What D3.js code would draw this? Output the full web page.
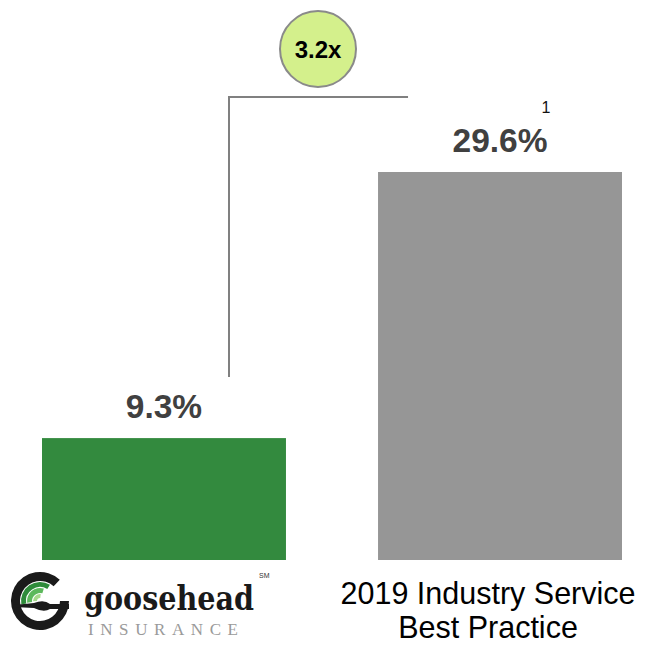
<!DOCTYPE html>
<html><head><meta charset="utf-8">
<script src="https://cdn.jsdelivr.net/npm/d3@7"></script>
<style>html,body{margin:0;padding:0;background:#fff;}svg{display:block;}</style>
</head><body>
<svg id="c" width="647" height="645"></svg>
<script>
const categories = ["Goosehead", "2019 Industry Service Best Practice"];
const values = [9.3, 29.6];
const valueLabels = ["9.3%", "29.6%"];
const multipleLabel = "3.2x";
const colors = ["#338a3e", "#969696"];

const svg = d3.select("#c");
const x = d3.scaleBand().domain(categories).range([42, 622]).paddingInner(0.274).paddingOuter(0);
const y = d3.scaleLinear().domain([0, 29.6]).range([560, 172]);
const sans = "Liberation Sans, Arial, sans-serif";

svg.selectAll("rect.bar").data(categories).enter().append("rect")
  .attr("class","bar")
  .attr("x", d => x(d)).attr("width", x.bandwidth())
  .attr("y", (d,i) => y(values[i])).attr("height", (d,i) => y(0) - y(values[i]))
  .attr("fill", (d,i) => colors[i]);

svg.selectAll("text.val").data(categories).enter().append("text")
  .attr("class","val")
  .attr("x", d => x(d) + x.bandwidth()/2)
  .attr("y", (d,i) => y(values[i]) - 20)
  .attr("text-anchor","middle")
  .attr("font-family", sans)
  .attr("font-weight","bold").attr("font-size", 33.5)
  .attr("fill","#404040")
  .text((d,i) => valueLabels[i]);

// footnote marker
svg.append("text").attr("x", x(categories[1]) + x.bandwidth()/2 + 46).attr("y", y(values[1]) - 59)
  .attr("text-anchor","middle").attr("font-family", sans)
  .attr("font-size", 16).attr("fill","#111").text("1");

// bracket
const bx = x(categories[0]) + 187;
const topY = 97;
svg.append("path")
  .attr("d", `M${bx},${y(values[0]) - 61} L${bx},${topY} L${x(categories[1]) + 30},${topY}`)
  .attr("fill","none").attr("stroke","#808080").attr("stroke-width",2);

// multiple circle
svg.append("circle").attr("cx", 318).attr("cy", 49).attr("r", 38)
  .attr("fill","#d4f08c").attr("stroke","#8a8a8a").attr("stroke-width",2);
svg.append("text").attr("x", 318).attr("y", 58).attr("text-anchor","middle")
  .attr("font-family", sans).attr("font-weight","bold")
  .attr("font-size", 24).attr("fill","#000").text(multipleLabel);

// category label for industry
const cx2 = x(categories[1]) + x.bandwidth()/2 - 12;
svg.append("text").attr("x", cx2).attr("y", 603.5).attr("text-anchor","middle")
  .attr("font-family", sans).attr("font-size", 30.5).attr("fill","#000")
  .text("2019 Industry Service");
svg.append("text").attr("x", cx2).attr("y", 638).attr("text-anchor","middle")
  .attr("font-family", sans).attr("font-size", 30.5).attr("fill","#000")
  .text("Best Practice");

// logo for Goosehead
const lg = svg.append("g").attr("transform","translate(40,601)");
const arc = d3.arc();
lg.append("path").attr("d", arc({innerRadius:20, outerRadius:29, startAngle: Math.PI/2, endAngle: 2*Math.PI + 0.75}))
  .attr("fill","#1a1a1a");
lg.append("path").attr("d", arc({innerRadius:14, outerRadius:19, startAngle: -1.75, endAngle: 0.55}))
  .attr("fill","#2e8b3a");
lg.append("path").attr("d", arc({innerRadius:8, outerRadius:13, startAngle: -1.7, endAngle: 0.3}))
  .attr("fill","#5cb85c");
lg.append("path").attr("d", arc({innerRadius:3, outerRadius:7, startAngle: -1.6, endAngle: 0.1}))
  .attr("fill","#a6d98c");
lg.append("path").attr("d", "M-26,4 L-6,2 Q4,-2 10,3 L29,3 L29,8 L10,8 Q4,12 -6,7 L-26,6 Z").attr("fill","#1a1a1a");
svg.append("text").attr("x", 84).attr("y", 610)
  .attr("font-family","DejaVu Serif, Liberation Serif, serif").attr("font-weight","bold")
  .attr("font-size", 33).attr("fill","#1a1a1a").attr("textLength", 170)
  .attr("lengthAdjust","spacingAndGlyphs").text("goosehead");
svg.append("text").attr("x", 259).attr("y", 578)
  .attr("font-family", sans).attr("font-size", 7).attr("fill","#333").text("SM");
svg.append("text").attr("x", 88).attr("y", 635)
  .attr("font-family","Liberation Serif, DejaVu Serif, serif")
  .attr("font-size", 17).attr("fill","#9a9a9a").attr("textLength", 150).text("INSURANCE");
</script>
</body></html>
